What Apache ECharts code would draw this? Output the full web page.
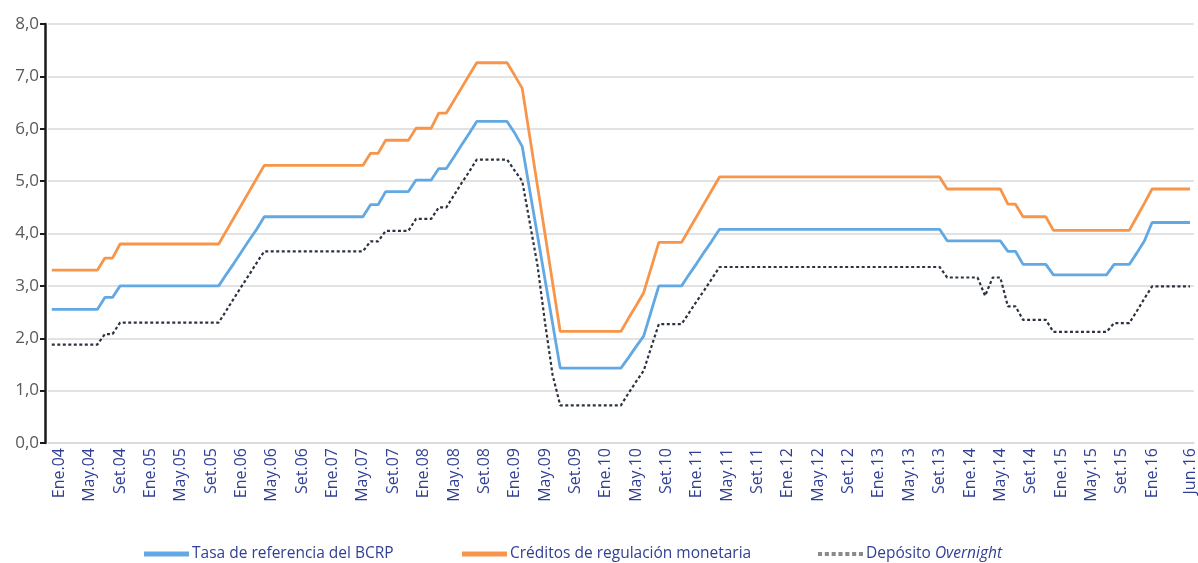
<!DOCTYPE html>
<html>
<head>
<meta charset="utf-8">
<script src="https://cdn.jsdelivr.net/npm/echarts@6/dist/echarts.min.js"></script>
<style>
html,body{margin:0;padding:0;background:#fff;}
#chart{width:1198px;height:563px;}
</style>
</head>
<body>
<div id="chart"></div>
<script>
// Month names (Spanish, as in the source) and years used to build the category labels Dic.03 .. Jun.16
const monthNames = ['Ene','Feb','Mar','Abr','May','Jun','Jul','Ago','Set','Oct','Nov','Dic'];
const categories = ['Dic.03'];
for (let y = 4; y <= 16; y++) {
  for (let m = 0; m < 12; m++) {
    if (y === 16 && m > 5) break;
    categories.push(monthNames[m] + '.' + String(y).padStart(2, '0'));
  }
}
// Tick labels shown on the axis
const tickLabels = ['Ene.04','May.04','Set.04','Ene.05','May.05','Set.05','Ene.06','May.06','Set.06','Ene.07','May.07','Set.07',
  'Ene.08','May.08','Set.08','Ene.09','May.09','Set.09','Ene.10','May.10','Set.10','Ene.11','May.11','Set.11',
  'Ene.12','May.12','Set.12','Ene.13','May.13','Set.13','Ene.14','May.14','Set.14','Ene.15','May.15','Set.15','Ene.16','Jun.16'];

const yTicks = [0,1,2,3,4,5,6,7,8];

// Tasa de referencia del BCRP (Dic.03 .. Jun.16)
const tasaReferencia = [
  2.55,2.55,2.55,2.55,2.55,2.55,2.55, 2.78,2.78,
  3.00,3.00,3.00,3.00,3.00,3.00,3.00,3.00,3.00,3.00,3.00,3.00,3.00,3.00,
  3.22,3.43,3.65,3.87,4.08,4.32,
  4.32,4.32,4.32,4.32,4.32,4.32,4.32,4.32,4.32,4.32,4.32,4.32,4.32,
  4.55,4.55, 4.80,4.80,4.80,4.80, 5.02,5.02,5.02, 5.24,5.24,
  5.46,5.69,5.91,6.14, 6.14,6.14,6.14,6.14,
  5.92,5.66,4.81,3.97,3.12,2.28,
  1.43,1.43,1.43,1.43,1.43,1.43,1.43,1.43,1.43,
  1.63,1.84,2.04,2.52, 3.00,3.00,3.00,3.00,
  3.22,3.43,3.65,3.86,
  4.08,4.08,4.08,4.08,4.08,4.08,4.08,4.08,4.08,4.08,4.08,4.08,4.08,4.08,4.08,
  4.08,4.08,4.08,4.08,4.08,4.08,4.08,4.08,4.08,4.08,4.08,4.08,4.08,4.08,4.08,
  3.86,3.86,3.86,3.86,3.86,3.86,3.86,3.86,
  3.66,3.66, 3.41,3.41,3.41,3.41,
  3.21,3.21,3.21,3.21,3.21,3.21,3.21,3.21,
  3.41,3.41,3.41, 3.63,3.86,
  4.21,4.21,4.21,4.21,4.21,4.21
];

// Créditos de regulación monetaria
const creditosRegulacion = [
  3.30,3.30,3.30,3.30,3.30,3.30,3.30, 3.53,3.53,
  3.80,3.80,3.80,3.80,3.80,3.80,3.80,3.80,3.80,3.80,3.80,3.80,3.80,3.80,
  4.05,4.30,4.55,4.80,5.05,5.30,
  5.30,5.30,5.30,5.30,5.30,5.30,5.30,5.30,5.30,5.30,5.30,5.30,5.30,
  5.53,5.53, 5.78,5.78,5.78,5.78, 6.01,6.01,6.01, 6.30,6.30,
  6.54,6.78,7.02,7.26, 7.26,7.26,7.26,7.26,
  7.02,6.77,5.84,4.91,3.99,3.06,
  2.13,2.13,2.13,2.13,2.13,2.13,2.13,2.13,2.13,
  2.38,2.62,2.87,3.35, 3.83,3.83,3.83,3.83,
  4.08,4.33,4.58,4.83,
  5.08,5.08,5.08,5.08,5.08,5.08,5.08,5.08,5.08,5.08,5.08,5.08,5.08,5.08,5.08,
  5.08,5.08,5.08,5.08,5.08,5.08,5.08,5.08,5.08,5.08,5.08,5.08,5.08,5.08,5.08,
  4.85,4.85,4.85,4.85,4.85,4.85,4.85,4.85,
  4.56,4.56, 4.32,4.32,4.32,4.32,
  4.06,4.06,4.06,4.06,4.06,4.06,4.06,4.06,4.06,4.06,4.06,
  4.32,4.58,
  4.85,4.85,4.85,4.85,4.85,4.85
];

// Depósito Overnight
const depositoOvernight = [
  1.88,1.88,1.88,1.88,1.88,1.88,1.88, 2.08,2.08,
  2.30,2.30,2.30,2.30,2.30,2.30,2.30,2.30,2.30,2.30,2.30,2.30,2.30,2.30,
  2.53,2.76,2.99,3.21,3.44,3.66,
  3.66,3.66,3.66,3.66,3.66,3.66,3.66,3.66,3.66,3.66,3.66,3.66,3.66,
  3.85,3.85, 4.05,4.05,4.05,4.05, 4.28,4.28,4.28, 4.50,4.50,
  4.73,4.96,5.18,5.41, 5.41,5.41,5.41,5.41,
  5.20,5.00,4.20,3.40,2.30,1.30,
  0.72,0.72,0.72,0.72,0.72,0.72,0.72,0.72,0.72,
  0.95,1.17,1.38,1.83, 2.27,2.27,2.27,2.27,
  2.49,2.71,2.92,3.14,
  3.36,3.36,3.36,3.36,3.36,3.36,3.36,3.36,3.36,3.36,3.36,3.36,3.36,3.36,3.36,
  3.36,3.36,3.36,3.36,3.36,3.36,3.36,3.36,3.36,3.36,3.36,3.36,3.36,3.36,3.36,
  3.16,3.16,3.16,3.16,3.16, 2.81, 3.16,3.16,
  2.61,2.61, 2.35,2.35,2.35,2.35,
  2.12,2.12,2.12,2.12,2.12,2.12,2.12,2.12,
  2.29,2.29,2.29, 2.52,2.76,
  2.99,2.99,2.99,2.99,2.99,2.99
];

const seriesNames = ['Tasa de referencia del BCRP','Créditos de regulación monetaria','Depósito Overnight'];

const FONT = 'Open Sans';
const labelBlue = '#303f94';

const legendText = {
  fontFamily: FONT, fontSize: 15.5, color: labelBlue, padding: [0, 0, 0, -2],
  rich: {i: {fontFamily: FONT, fontSize: 15.5, fontStyle: 'italic', color: labelBlue}}
};
function makeLegend(left, item) {
  return {
    top: 541, left: left,
    itemWidth: 45, itemHeight: 5,
    data: [item],
    formatter: function (name) {
      return name === 'Depósito Overnight' ? 'Depósito {i|Overnight}' : name;
    },
    textStyle: legendText
  };
}

const chart = echarts.init(document.getElementById('chart'), null, {renderer: 'canvas'});
chart.setOption({
  animation: false,
  backgroundColor: '#ffffff',
  grid: {left: 48, right: 3, top: 24, bottom: 120, containLabel: false},
  legend: [
    makeLegend(139, {name: seriesNames[0], icon: 'rect'}),
    makeLegend(457, {name: seriesNames[1], icon: 'rect'}),
    makeLegend(813, {name: seriesNames[2], icon: 'path://M0,0 h3 v3 h-3z M5,0 h3 v3 h-3z M10,0 h3 v3 h-3z M15,0 h3 v3 h-3z M20,0 h3 v3 h-3z M25,0 h3 v3 h-3z M30,0 h3 v3 h-3z', itemStyle: {color: '#8a8a8a'}})
  ],
  xAxis: {
    type: 'category',
    data: categories,
    boundaryGap: true,
    axisLine: {show: true, lineStyle: {color: '#d9d9d9', width: 1.5}},
    axisTick: {show: false},
    axisLabel: {
      rotate: 90,
      margin: 5,
      interval: function (idx, value) { return tickLabels.indexOf(value) !== -1; },
      fontFamily: FONT, fontSize: 16, color: labelBlue
    },
    splitLine: {show: false}
  },
  yAxis: {
    type: 'value',
    min: yTicks[0],
    max: yTicks[yTicks.length - 1],
    interval: 1,
    offset: 3,
    axisLine: {show: true, lineStyle: {color: '#1a1a1a', width: 2.5}},
    axisTick: {show: true, length: 5, lineStyle: {color: '#1a1a1a', width: 2}},
    axisLabel: {
      margin: 6,
      fontFamily: FONT, fontSize: 17, color: '#595959',
      formatter: function (v) { return v.toFixed(1).replace('.', ','); }
    },
    splitLine: {show: true, lineStyle: {color: '#d9d9d9', width: 1.5}}
  },
  series: [
    {
      name: seriesNames[0], type: 'line', data: tasaReferencia,
      symbol: 'none', color: '#62a9e4',
      lineStyle: {color: '#62a9e4', width: 2.8}, z: 3
    },
    {
      name: seriesNames[1], type: 'line', data: creditosRegulacion,
      symbol: 'none', color: '#f7964a',
      lineStyle: {color: '#f7964a', width: 2.8}, z: 3
    },
    {
      name: seriesNames[2], type: 'line', data: depositoOvernight,
      symbol: 'none', color: '#2b3340',
      lineStyle: {color: '#2b3340', width: 2.2, type: [3, 2.5]}, z: 2
    }
  ]
});
</script>
</body>
</html>
